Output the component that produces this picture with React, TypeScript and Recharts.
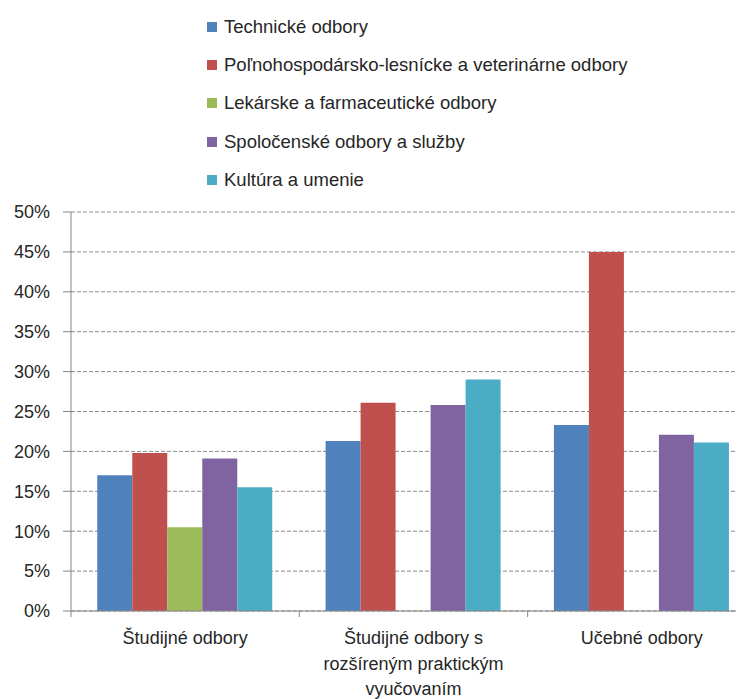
import { BarChart, Bar, XAxis, YAxis, CartesianGrid, Legend } from 'recharts';

const categories = [
  'Študijné odbory',
  'Študijné odbory s\nrozšíreným praktickým\nvyučovaním',
  'Učebné odbory',
];

const seriesNames = [
  'Technické odbory',
  'Poľnohospodársko-lesnícke a veterinárne odbory',
  'Lekárske a farmaceutické odbory',
  'Spoločenské odbory a služby',
  'Kultúra a umenie',
];

const technicke = [17.0, 21.3, 23.3];
const polnohospodarske = [19.8, 26.1, 45.0];
const lekarske = [10.5, null, null];
const spolocenske = [19.1, 25.8, 22.1];
const kultura = [15.5, 29.0, 21.1];

const yTicks = [0, 5, 10, 15, 20, 25, 30, 35, 40, 45, 50];

const colors = ['#4F81BD', '#C0504D', '#9BBB59', '#8064A2', '#4BACC6'];
const keys = ['s0', 's1', 's2', 's3', 's4'];

const data = categories.map((name, i) => ({
  name,
  s0: technicke[i],
  s1: polnohospodarske[i],
  s2: lekarske[i],
  s3: spolocenske[i],
  s4: kultura[i],
}));

const FONT = '"Liberation Sans", Arial, sans-serif';
const CHART_W = 760;
const CHART_H = 691;
const MARGIN = { top: 204, right: 12, bottom: 0, left: 0 };
const Y_W = 63;
const BAND = (CHART_W - MARGIN.right - MARGIN.left - Y_W) / categories.length;

function CategoryTick(props: any) {
  const { x, y, payload } = props;
  const lines = String(payload.value).split('\n');
  const bx = x - BAND / 2;
  return (
    <g>
      <line x1={bx} y1={y} x2={bx} y2={y + 6} stroke="#868686" />
      <text x={x} y={y + 33} textAnchor="middle" fill="#262626" fontSize={18} fontFamily={FONT}>
        {lines.map((l, i) => (
          <tspan key={i} x={x} dy={i === 0 ? 0 : 25.5}>{l}</tspan>
        ))}
      </text>
    </g>
  );
}

function renderLegend(props: any) {
  // keep the series order, not alphabetical
  const items = [...(props.payload || [])].sort(
    (a: any, b: any) => seriesNames.indexOf(a.value) - seriesNames.indexOf(b.value),
  );
  return (
    <div style={{ fontFamily: FONT, fontSize: 18.5, color: '#262626' }}>
      {items.map((p: any, i: number) => (
        <div key={i} style={{ height: 38.2, display: 'flex', alignItems: 'center', whiteSpace: 'nowrap' }}>
          <span style={{ display: 'inline-block', width: 10, height: 10, background: p.color, marginRight: 7 }} />
          {p.value}
        </div>
      ))}
    </div>
  );
}

export default function App() {
  return (
    <div style={{ width: 736, height: CHART_H, overflow: 'hidden' }}>
      <BarChart
        width={CHART_W}
        height={CHART_H}
        data={data}
        margin={MARGIN}
        barCategoryGap="11.5%"
        barGap={0}
      >
        <CartesianGrid vertical={false} stroke="#8c8c8c" strokeDasharray="4 2" />
        <XAxis
          dataKey="name"
          height={88}
          tickLine={false}
          tickSize={0}
          tickMargin={0}
          axisLine={{ stroke: '#868686' }}
          tick={<CategoryTick />}
          interval={0}
        />
        <YAxis
          width={Y_W}
          domain={[0, 50]}
          ticks={yTicks}
          tickFormatter={(v) => `${v}%`}
          tickSize={8}
          tickMargin={13}
          axisLine={{ stroke: '#868686' }}
          tickLine={{ stroke: '#868686' }}
          tick={{ fill: '#262626', fontSize: 18, fontFamily: FONT }}
        />
        <Legend
          layout="vertical"
          align="center"
          verticalAlign="middle"
          content={renderLegend}
          wrapperStyle={{ top: 0, left: 199, width: 520 }}
        />
        {keys.map((k, i) => (
          <Bar key={k} dataKey={k} name={seriesNames[i]} fill={colors[i]} isAnimationActive={false} />
        ))}
      </BarChart>
    </div>
  );
}
